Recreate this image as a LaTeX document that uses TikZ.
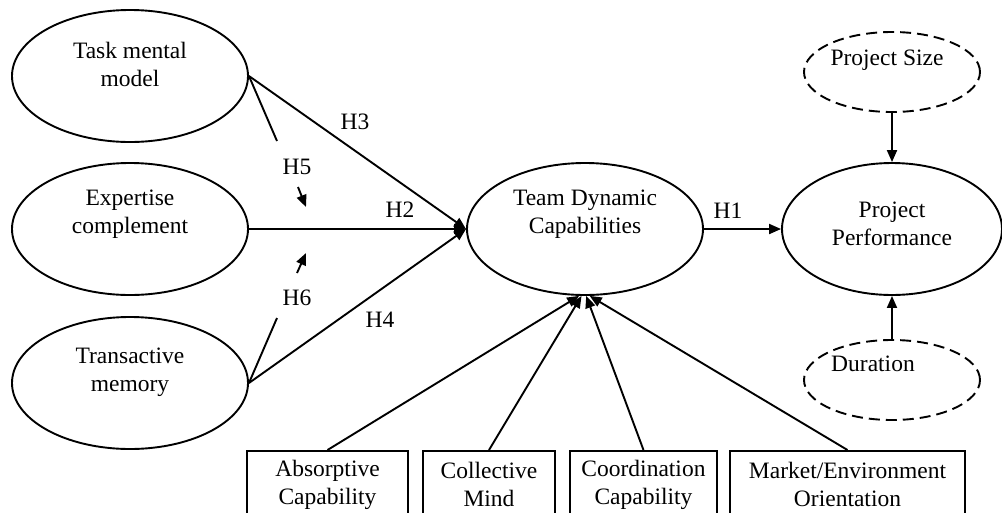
\documentclass[tikz,border=0pt]{standalone}
\usepackage{fontspec}
\setmainfont{Liberation Serif}
\usetikzlibrary{arrows.meta,shapes.geometric}

\begin{document}
\begin{tikzpicture}[x=1pt, y=-1pt, line width=1.9pt,
  font=\fontsize{23.5}{28}\selectfont,
  construct/.style={draw, ellipse, minimum width=236pt, minimum height=132pt, inner sep=0pt},
  control/.style={draw, ellipse, dash pattern=on 11pt off 6pt, minimum width=176pt, minimum height=80pt, inner sep=0pt},
  dimbox/.style={draw, rectangle, anchor=north, minimum height=68pt, align=center, inner sep=0pt},
  txt/.style={align=center, inner sep=0pt},
  hyp/.style={-{Triangle[length=12pt, width=10pt]}}]

\useasboundingbox (0,0) rectangle (1002,512);

\node[construct] (tmm) at (130,76) {};
\node[construct] (ec) at (130,229) {};
\node[construct] (tm) at (130,383) {};
\node[construct] (tdc) at (585,229) {};
\node[construct, minimum width=220pt] (pp) at (892,229) {};
\node[control] (size) at (892,72) {};
\node[control] (dur) at (892,380) {};

\node[txt] (tmm-t) at (130,64) {Task mental\\model};
\node[txt] (ec-t) at (130,214) {Expertise\\complement};
\node[txt] (tm-t) at (130,372) {Transactive\\memory};
\node[txt] (tdc-t) at (585,214) {Team Dynamic\\Capabilities};
\node[txt] (pp-t) at (892,224) {Project\\Performance};
\node[txt] (size-t) at (887,60) {Project Size};
\node[txt] (dur-t) at (873,364) {Duration};

\node[dimbox, minimum width=161pt] (ac) at (327.5,450) {Absorptive\\Capability};
\node[dimbox, minimum width=132pt] (cm) at (489,450) {Collective\\Mind};
\node[dimbox, minimum width=147pt] (cc) at (643.5,450) {Coordination\\Capability};
\node[dimbox, minimum width=235pt] (meo) at (847.5,450) {Market/Environment\\Orientation};

\draw[hyp] (tmm.east) -- (tdc.west);
\draw[hyp] (ec.east) -- (tdc.west);
\draw[hyp] (tm.east) -- (tdc.west);
\draw[hyp] (tdc.east) -- (pp.west);
\draw[hyp] (size.south) -- (pp.north);
\draw[hyp] (dur.north) -- (pp.south);

\draw[hyp] (ac.north) -- (tdc.265);
\draw[hyp] (cm.north) -- (tdc.267);
\draw[hyp] (cc.north) -- (tdc.271);
\draw[hyp] (meo.north) -- (tdc.274);

\coordinate (m5a) at (277,141);
\coordinate (m5b) at (298,187);
\coordinate (m5c) at (306,207);
\coordinate (m6a) at (277,318);
\coordinate (m6b) at (297,273);
\coordinate (m6c) at (306,253);
\draw (tmm.east) -- (m5a);
\draw[hyp] (m5b) -- (m5c);
\draw (tm.east) -- (m6a);
\draw[hyp] (m6b) -- (m6c);

\node (h1) at (728,211) {H1};
\node (h2) at (400,210) {H2};
\node (h3) at (355,122) {H3};
\node (h4) at (380,320) {H4};
\node (h5) at (297,167) {H5};
\node (h6) at (297,298) {H6};

\end{tikzpicture}
\end{document}
